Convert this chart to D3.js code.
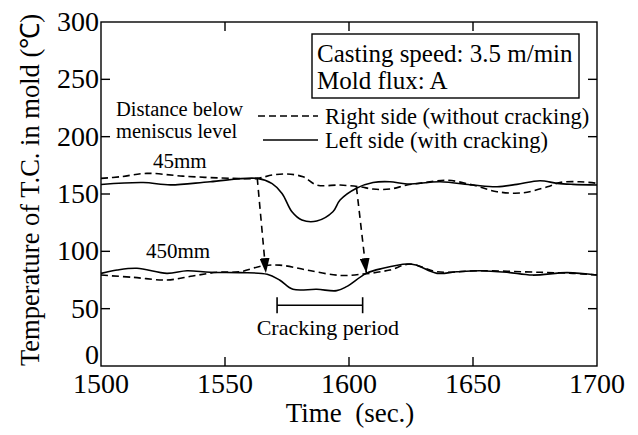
<!DOCTYPE html>
<html>
<head>
    <script src="https://d3js.org/d3.v7.min.js"></script>
    <style>
        body { margin: 0; background: white; }
        svg { font-family: "Liberation Serif", "Times New Roman", serif; }
        .line { fill: none; stroke: black; stroke-width: 1.6px; }
        .dash { stroke-dasharray: 7,4; }
        .axis line, .axis path { stroke: black; stroke-width: 1.4px; }
    </style>
</head>
<body>
<svg width="638" height="435"></svg>
<script>
    // time (sec.) and temperature (deg C)
    let left45T  = [1500, 1517, 1528, 1544, 1563, 1569, 1573, 1577, 1581, 1587, 1593.5, 1596.4, 1603, 1609.7, 1616.5, 1623.4, 1636.7, 1650, 1659.7, 1667.7, 1677, 1683.9, 1690.3, 1700];
    let left45   = [158.3, 160, 158, 160.7, 163.6, 159, 150.5, 134.5, 127.3, 126.4, 134.5, 144.7, 155, 160, 160.7, 158.7, 160.7, 157.8, 156.3, 158.4, 161.6, 159.3, 158.4, 157.8];
    let right45T = [1500, 1507.7, 1518.5, 1533, 1553, 1563, 1569, 1575, 1581.5, 1587, 1596.4, 1604.4, 1609.7, 1616.5, 1623.4, 1630, 1639.5, 1650, 1659.7, 1670, 1680, 1685, 1693, 1700];
    let right45  = [163.6, 165, 168, 165.6, 163.6, 163.6, 166.5, 167.4, 165, 157.8, 157.8, 156.3, 154.3, 154.3, 157.8, 159.8, 162, 157.8, 152, 151, 156.3, 160, 160.7, 159.3];
    let left450T  = [1500, 1506.5, 1514.5, 1526.6, 1534.7, 1544, 1556, 1567, 1572, 1577.4, 1587, 1595, 1599, 1607, 1613.7, 1623.4, 1627, 1635.5, 1643.5, 1652.8, 1663.7, 1674, 1688, 1700];
    let left450   = [80.8, 83.7, 85.2, 80.8, 83.1, 81.7, 81.4, 80, 75, 66.9, 66.9, 65.7, 69.2, 80.8, 85.2, 88.9, 88, 80.8, 82.2, 83.1, 81.7, 79.3, 81.4, 79.3];
    let right450T = [1500, 1513, 1526.6, 1537, 1546.8, 1556, 1565, 1572, 1583, 1596.4, 1607, 1616.5, 1624.6, 1635.5, 1652.8, 1677, 1690.3, 1700];
    let right450  = [79.3, 77.3, 75, 78.5, 81.7, 82.2, 87.2, 88, 83.7, 79, 80.5, 83.7, 88.9, 82.2, 83.1, 81.7, 80.8, 79.3];

    let xTicks = [1500, 1550, 1600, 1650, 1700];
    let yTicks = [0, 50, 100, 150, 200, 250, 300];

    // arrows: [time start, temp start, time end, temp end]
    let arrows = [[1563, 164, 1566.5, 81], [1603, 156, 1607, 81]];
    let crackPeriod = [1571, 1605.5];
    let crackLevel = 53;

    let svg = d3.select("svg");
    let x = d3.scaleLinear().domain([1500, 1700]).range([101, 597]);
    let y = d3.scaleLinear().domain([0, 300]).range([366, 22]);

    svg.append("defs").append("marker")
        .attr("id", "head").attr("viewBox", "0 0 15 10")
        .attr("refX", 15).attr("refY", 5)
        .attr("markerWidth", 15).attr("markerHeight", 10)
        .attr("markerUnits", "userSpaceOnUse").attr("orient", "auto")
        .append("path").attr("d", "M0,0 L15,5 L0,10 Z").attr("fill", "black");

    // frame + inward ticks on all sides
    svg.append("rect").attr("x", x(1500)).attr("y", y(300))
        .attr("width", x(1700) - x(1500)).attr("height", y(0) - y(300))
        .attr("fill", "none").attr("stroke", "black").attr("stroke-width", 1.4);

    let tl = 9;
    svg.append("g").attr("class", "axis").selectAll("line").data(xTicks.slice(1, -1)).enter()
        .append("line").attr("x1", d => x(d)).attr("x2", d => x(d)).attr("y1", y(0)).attr("y2", y(0) - tl);
    svg.append("g").attr("class", "axis").selectAll("line").data(xTicks.slice(1, -1)).enter()
        .append("line").attr("x1", d => x(d)).attr("x2", d => x(d)).attr("y1", y(300)).attr("y2", y(300) + tl);
    svg.append("g").attr("class", "axis").selectAll("line").data(yTicks.slice(1, -1)).enter()
        .append("line").attr("x1", x(1500)).attr("x2", x(1500) + tl).attr("y1", d => y(d)).attr("y2", d => y(d));
    svg.append("g").attr("class", "axis").selectAll("line").data(yTicks.slice(1, -1)).enter()
        .append("line").attr("x1", x(1700)).attr("x2", x(1700) - tl).attr("y1", d => y(d)).attr("y2", d => y(d));

    svg.append("g").selectAll("text").data(xTicks).enter().append("text")
        .attr("x", d => x(d)).attr("y", 393).attr("text-anchor", "middle")
        .attr("font-size", 28).text(d => d);
    svg.append("g").selectAll("text").data(yTicks).enter().append("text")
        .attr("x", 99).attr("y", d => y(d) + (d === 0 ? -2 : 9)).attr("text-anchor", "end")
        .attr("font-size", 28).text(d => d);

    svg.append("text").attr("x", 350).attr("y", 422).attr("text-anchor", "middle")
        .attr("font-size", 27).attr("xml:space", "preserve").text("Time  (sec.)");
    svg.append("text").attr("transform", "translate(39,190) rotate(-90)")
        .attr("text-anchor", "middle").attr("font-size", 26.5)
        .text("Temperature of T.C. in mold (\u2103)");

    // series
    let line = d3.line().x(d => x(d[0])).y(d => y(d[1])).curve(d3.curveCatmullRom);
    let series = [
        [d3.zip(right45T, right45), true],
        [d3.zip(left45T, left45), false],
        [d3.zip(right450T, right450), true],
        [d3.zip(left450T, left450), false]
    ];
    series.forEach(s => {
        svg.append("path").attr("class", s[1] ? "line dash" : "line").attr("d", line(s[0]));
    });

    arrows.forEach(a => {
        svg.append("line").attr("class", "line").attr("stroke-dasharray", "7,5")
            .attr("x1", x(a[0])).attr("y1", y(a[1])).attr("x2", x(a[2])).attr("y2", y(a[3]))
            .attr("marker-end", "url(#head)");
    });

    // cracking period bracket
    let cy = y(crackLevel);
    svg.append("line").attr("class", "line").attr("x1", x(crackPeriod[0])).attr("x2", x(crackPeriod[1])).attr("y1", cy).attr("y2", cy);
    crackPeriod.forEach(t => {
        svg.append("line").attr("class", "line").attr("x1", x(t)).attr("x2", x(t)).attr("y1", cy - 8).attr("y2", cy + 8);
    });
    svg.append("text").attr("x", (x(crackPeriod[0]) + x(crackPeriod[1])) / 2 + 8).attr("y", 335)
        .attr("text-anchor", "middle").attr("font-size", 22).text("Cracking period");

    // labels
    svg.append("text").attr("x", 153).attr("y", 168).attr("font-size", 21).text("45mm");
    svg.append("text").attr("x", 146).attr("y", 258).attr("font-size", 21).text("450mm");
    svg.append("text").attr("x", 116).attr("y", 116).attr("font-size", 20.5).text("Distance below");
    svg.append("text").attr("x", 116).attr("y", 138).attr("font-size", 20.5).text("meniscus level");

    // info box
    svg.append("rect").attr("x", 312).attr("y", 34).attr("width", 267).attr("height", 64)
        .attr("fill", "white").attr("stroke", "black").attr("stroke-width", 1.4);
    svg.append("text").attr("x", 317).attr("y", 62).attr("font-size", 25).text("Casting speed: 3.5 m/min");
    svg.append("text").attr("x", 317).attr("y", 89).attr("font-size", 25).text("Mold flux: A");

    // legend
    svg.append("line").attr("class", "line dash").attr("stroke-dasharray", "6,5")
        .attr("x1", 258).attr("x2", 318).attr("y1", 116).attr("y2", 116);
    svg.append("line").attr("class", "line").attr("x1", 263).attr("x2", 318).attr("y1", 140).attr("y2", 140);
    svg.append("text").attr("x", 325).attr("y", 124).attr("font-size", 22.5).text("Right side (without cracking)");
    svg.append("text").attr("x", 325).attr("y", 148).attr("font-size", 22.5).text("Left side (with cracking)");
</script>
</body>
</html>
